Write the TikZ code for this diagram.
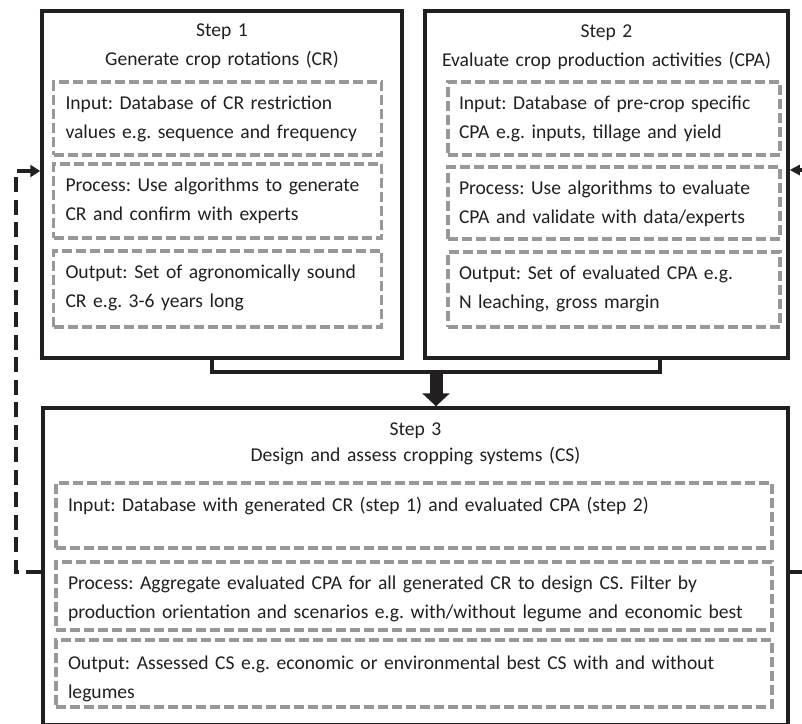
\documentclass[tikz,border=0pt]{standalone}
\usepackage{fontspec}
\setmainfont{Carlito}
\usetikzlibrary{arrows.meta}
\definecolor{inkblack}{RGB}{35,31,32}
\definecolor{dashgray}{RGB}{152,152,152}
\newcommand{\boxfont}{\fontsize{19.6}{29.5}\selectfont\frenchspacing\hyphenpenalty10000\relax}

\begin{document}
\begin{tikzpicture}
[x=1pt,y=-1pt,every node/.style={font=\boxfont,text=inkblack},
stepbox/.style={draw=inkblack,line width=3.5pt,inner sep=0pt},
steptitle/.style={align=center,inner sep=0pt,anchor=base},
inbox/.style={draw=dashgray,line width=3.2pt,dash pattern=on 10pt off 4pt,align=left,inner xsep=12pt,inner ysep=0pt,text height=27pt},
link/.style={draw=inkblack,line width=3.5pt},
fback/.style={draw=inkblack,line width=3.5pt,dash pattern=on 15pt off 7.5pt}]
\useasboundingbox (0,0) rectangle (802,723);
\node[stepbox,minimum width=360pt,minimum height=347pt] (s1) at (222,184.5) {};
\node[stepbox,minimum width=363pt,minimum height=347pt] (s2) at (606.5,184.5) {};
\node[stepbox,minimum width=745pt,minimum height=317pt] (s3) at (415.5,566.5) {};
\node[steptitle,text width=350pt] (t1) at (222,36) {Step 1\\Generate crop rotations (CR)};
\node[steptitle,text width=350pt] (t2) at (606.5,37) {Step 2\\Evaluate crop production activities (CPA)};
\node[steptitle,text width=700pt] (t3) at (415.5,435) {Step 3\\[-3.5pt]Design and assess cropping systems (CS)};
\node[inbox,text width=304pt,text depth=46pt] (in1) at (217.5,118.5) {Input: Database of CR restriction\\values e.g. sequence and frequency};
\node[inbox,text width=304pt,text depth=47pt] (pr1) at (217.5,201) {Process: Use algorithms to generate\\CR and confirm with experts};
\node[inbox,text width=304pt,text depth=49pt] (ou1) at (217.5,289) {Output: Set of agronomically sound\\CR e.g. 3-6 years long};
\node[inbox,inner xsep=11pt,text width=310pt,text depth=46pt] (in2) at (614,118.5) {Input: Database of pre-crop specific\\CPA e.g. inputs, tillage and yield};
\node[inbox,inner xsep=11pt,text width=310pt,text depth=45pt] (pr2) at (614,203) {Process: Use algorithms to evaluate\\CPA and validate with data/experts};
\node[inbox,inner xsep=11pt,text width=310pt,text depth=48pt] (ou2) at (614,289.5) {Output: Set of evaluated CPA e.g.\\N leaching, gross margin};
\node[inbox,text width=692pt,text height=28pt,text depth=37pt] (in3) at (414,515.5) {Input: Database with generated CR (step 1) and evaluated CPA (step 2)};
\node[inbox,text width=692pt,text height=27pt,text depth=41pt] (pr3) at (414,596) {Process: Aggregate evaluated CPA for all generated CR to design CS. Filter by\\production orientation and scenarios e.g. with/without legume and economic best};
\node[inbox,text width=692pt,text height=29pt,text depth=38pt] (ou3) at (414,673.5) {Output: Assessed CS e.g. economic or environmental best CS with and without\\legumes};
\coordinate (j1) at (212,372);
\coordinate (j2) at (660,372);
\coordinate (jm) at (436,372);
\coordinate (l1) at (16,572);
\coordinate (l2) at (16,171);
\coordinate (r1) at (812,572);
\coordinate (r2) at (812,170);
\draw[link] (s1.south -| j1) -- (j1) -- (j2) -- (s2.south -| j2);
\draw[link,line width=13pt,-{Triangle[length=13pt,width=27pt]}] (jm) -- (s3.north -| jm);
\draw[fback,-{Triangle[length=10pt,width=12pt]}] (s3.west |- l1) -- (l1) -- (l2) -- (s1.west |- l2);
\draw[fback] (s3.east |- r1) -- (r1);
\draw[fback,-{Triangle[length=10pt,width=10pt]}] (r2) -- (s2.east |- r2);
\end{tikzpicture}
\end{document}
